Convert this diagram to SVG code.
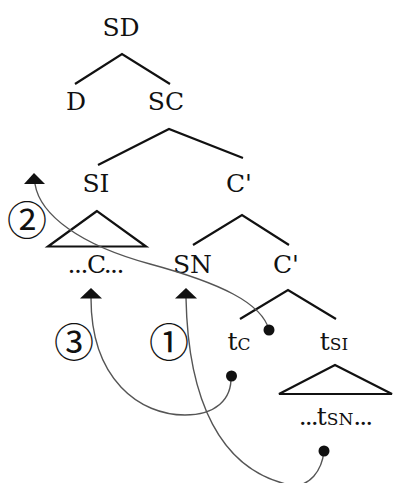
<svg xmlns="http://www.w3.org/2000/svg" width="394" height="483" viewBox="0 0 394 483">
<style>
.t{font-family:"DejaVu Serif","Liberation Serif",serif;font-size:25px;fill:#111;text-anchor:middle}
.sc{font-size:17px}
.dd{letter-spacing:-2px}
.n{font-family:"Noto Sans CJK JP","DejaVu Sans",sans-serif;font-size:40px;fill:#111;text-anchor:middle}
.br{fill:none;stroke:#111;stroke-width:2.2;stroke-linejoin:miter}
.cv{fill:none;stroke:#555;stroke-width:1.4}
.ah{fill:#111}
.dot{fill:#111}
</style>
<rect width="394" height="483" fill="#fff"/>
<g id="SD"><text class="t" x="121" y="36">SD</text><polyline class="br" points="75,84 122,54 170,84"/></g>
<g id="D"><text class="t" x="76" y="110">D</text></g>
<g id="SC"><text class="t" x="166" y="110">SC</text><polyline class="br" points="98,165 169,129 243,158"/></g>
<g id="SI"><text class="t" x="96" y="192">SI</text><polygon class="br" points="97,211 48,246.5 146,246.5"/></g>
<g id="C1"><text class="t" x="239" y="192">C'</text><polyline class="br" points="193,245 242,215 289,245"/></g>
<g id="Cdots"><text class="t" x="96" y="273" textLength="57" lengthAdjust="spacing">...C...</text></g>
<g id="SN"><text class="t" x="192.5" y="273">SN</text></g>
<g id="C2"><text class="t" x="286" y="273">C'</text><polyline class="br" points="240,319 288,290 336,319"/></g>
<g id="tC"><text class="t" x="239" y="350">t<tspan class="sc" font-size="19">C</tspan></text></g>
<g id="tSI"><text class="t" x="334" y="350">t<tspan class="sc">SI</tspan></text><polygon class="br" points="335,365 279,394 392,394"/></g>
<g id="tSNdots"><text class="t" x="335" y="425"><tspan class="dd">...</tspan>t<tspan class="sc">SN</tspan><tspan class="dd">...</tspan></text></g>
<g id="labels">
<text class="n" x="27" y="235">②</text>
<text class="n" x="74" y="357">③</text>
<text class="n" x="169" y="357">①</text>
</g>
<g id="connectors">
<path class="cv" d="M35,184 C40,215 80,245 150,264 C220,283 262,303 269,330"/>
<polygon class="ah" points="34,173 24,184 45,184"/>
<circle class="dot" cx="269" cy="330" r="5.5"/>
<path class="cv" d="M91,298 C91,380 140,415 185,415 C215,415 232,400 231,376"/>
<polygon class="ah" points="91,288 80,298.5 102,298.5"/>
<circle class="dot" cx="231.5" cy="376" r="5.5"/>
<path class="cv" d="M186,298 C188,400 220,470 290,485 C310,488 322,470 324,451"/>
<polygon class="ah" points="186,288 175,298.5 197,298.5"/>
<circle class="dot" cx="324" cy="451" r="5.5"/>
</g>
</svg>
